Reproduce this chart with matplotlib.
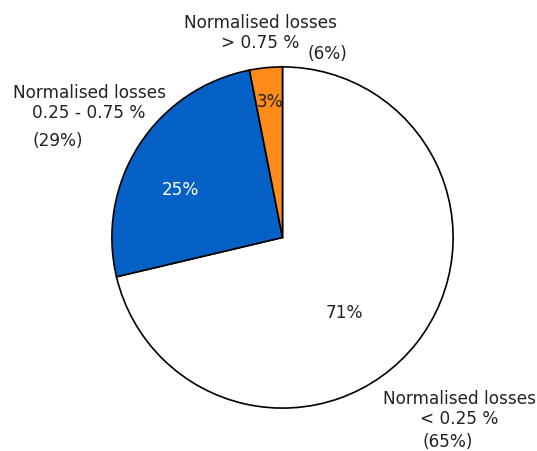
import matplotlib
matplotlib.use('Agg')
import matplotlib.pyplot as plt

# slice shares (%), clockwise from 12 o'clock
shares = [71.3, 25.6, 3.1]
inner_labels = ['71%', '25%', '3%']
colors = ['#ffffff', '#0561c6', '#ff8c1a']
inner_colors = ['#222222', '#ffffff', '#222222']

categories = ['Normalised losses\n< 0.25 %',
              'Normalised losses\n0.25 - 0.75 %',
              'Normalised losses\n> 0.75 %']
counts_share = ['(65%)', '(29%)', '(6%)']

W, H = 537, 452
fig = plt.figure(figsize=(W / 100, H / 100), dpi=100)
ax = fig.add_axes([0, 0, 1, 1])

cx, cy, r = 282.5, H - 238.5, 170.6
wedges, _ = ax.pie(shares, colors=colors, startangle=90, counterclock=False,
                   center=(cx, cy), radius=r,
                   wedgeprops=dict(edgecolor='black', linewidth=1.2))
for w in wedges:
    w.set_clip_on(False)

ax.set_xlim(0, W)
ax.set_ylim(0, H)
ax.set_aspect('equal')
ax.axis('off')

fs = 12.2
# percentages inside slices (pixel positions from the reference)
inner_pos = [(344, 313), (180, 190), (270, 102)]
for (x, y), t, c in zip(inner_pos, inner_labels, inner_colors):
    ax.text(x, H - y, t, ha='center', va='center', fontsize=fs, color=c)

# outer category labels, one text per line
cat_pos = [(459, 399), (89, 93), (260, 23)]
line_gap = 20.5
for (x, y), t in zip(cat_pos, categories):
    for i, line in enumerate(t.split('\n')):
        ax.text(x, H - (y + i * line_gap), line, ha='center', va='center',
                fontsize=fs, color='#222222')

share_pos = [(448, 442), (58, 141), (327, 54)]
for (x, y), t in zip(share_pos, counts_share):
    ax.text(x, H - y, t, ha='center', va='center', fontsize=fs, color='#222222')

fig.savefig('out.png', dpi=100)
